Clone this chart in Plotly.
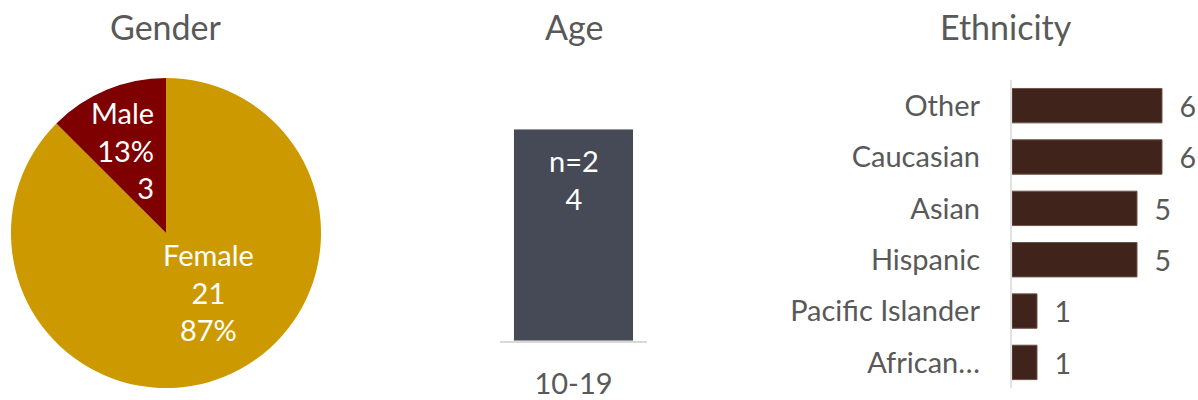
import plotly.graph_objects as go

# ---- data ----
gender_labels = ["Female", "Male"]
gender_values = [21, 3]
gender_text = ["Female<br>21<br>87%", "Male<br>13%<br>3"]

age_categories = ["10-19"]
age_values = [24]
age_text = ["n=2<br>4"]

eth_categories = ["Other", "Caucasian", "Asian", "Hispanic", "Pacific Islander", "African…"]
eth_values = [6, 6, 5, 5, 1, 1]

FONT = "Lato"
GRAY = "#595959"
W, H = 1198, 400


def fx(px):
    return px / W


def fy(py):
    return 1 - py / H


fig = go.Figure()

fig.add_trace(go.Pie(
    labels=gender_labels, values=gender_values,
    textinfo="none",
    sort=False, direction="clockwise", rotation=0,
    marker=dict(colors=["#CC9A00", "#7F0000"], line=dict(width=0)),
    domain=dict(x=[fx(9), fx(323)], y=[fy(393), fy(79)]),
    showlegend=False, hoverinfo="label+value",
))

fig.add_trace(go.Bar(
    x=age_categories, y=age_values,
    marker=dict(color="#464A56", line=dict(width=0)),
    width=0.81, xaxis="x", yaxis="y", showlegend=False,
))

fig.add_trace(go.Bar(
    x=eth_values, y=eth_categories, orientation="h",
    text=["  " + str(v) for v in eth_values], textposition="outside",
    textfont=dict(family=FONT, size=29, color=GRAY),
    marker=dict(color="#40231A", line=dict(width=1, color="#6E5449")),
    xaxis="x2", yaxis="y2", showlegend=False, cliponaxis=False,
))

title_font = dict(family=FONT, size=34, color=GRAY)
label_font = dict(family=FONT, size=29, color="white")

annotations = [
    dict(text="Gender", x=fx(166), y=fy(27), xref="paper", yref="paper",
         xanchor="center", yanchor="middle", showarrow=False, font=title_font),
    dict(text="Age", x=fx(574), y=fy(27), xref="paper", yref="paper",
         xanchor="center", yanchor="middle", showarrow=False, font=title_font),
    dict(text="Ethnicity", x=fx(1006), y=fy(27), xref="paper", yref="paper",
         xanchor="center", yanchor="middle", showarrow=False, font=title_font),
    # pie labels
    dict(text=gender_text[0], x=fx(208), y=fy(296), xref="paper", yref="paper",
         xanchor="center", yanchor="middle", align="center", showarrow=False, font=label_font),
    dict(text=gender_text[1], x=fx(156), y=fy(152), xref="paper", yref="paper",
         xanchor="right", yanchor="middle", align="right", showarrow=False, font=label_font),
    # age bar label
    dict(text=age_text[0], x=age_categories[0], y=age_values[0], xref="x", yref="y",
         xanchor="center", yanchor="top", yshift=-12, showarrow=False, font=label_font),
]

fig.update_layout(
    width=W, height=H,
    margin=dict(l=0, r=0, t=0, b=0),
    paper_bgcolor="white", plot_bgcolor="white",
    font=dict(family=FONT, color=GRAY),
    bargap=0.33,
    xaxis=dict(domain=[fx(500), fx(647)], showgrid=False, zeroline=False,
               showline=True, linecolor="#D9D9D9", linewidth=1.5,
               ticks="", tickfont=dict(family=FONT, size=29, color=GRAY),
               ticklabelstandoff=17, fixedrange=True),
    yaxis=dict(domain=[fy(345), fy(131)], range=[0, 24], visible=False, fixedrange=True),
    xaxis2=dict(domain=[fx(1012), 1.0], range=[0, 7.44], visible=False, fixedrange=True),
    yaxis2=dict(domain=[fy(393), fy(81)], anchor="x2", autorange="reversed",
                showgrid=False, zeroline=False, showline=False,
                ticks="", tickfont=dict(family=FONT, size=29, color=GRAY),
                ticklabelstandoff=31, fixedrange=True),
    shapes=[dict(type="line", xref="paper", yref="paper",
                 x0=fx(1011), x1=fx(1011), y0=fy(393), y1=fy(81),
                 line=dict(color="#D9D9D9", width=1.5))],
    annotations=annotations,
)

fig.write_html("out.html", config={"displayModeBar": False},
               post_script="document.body.style.margin='0';")
